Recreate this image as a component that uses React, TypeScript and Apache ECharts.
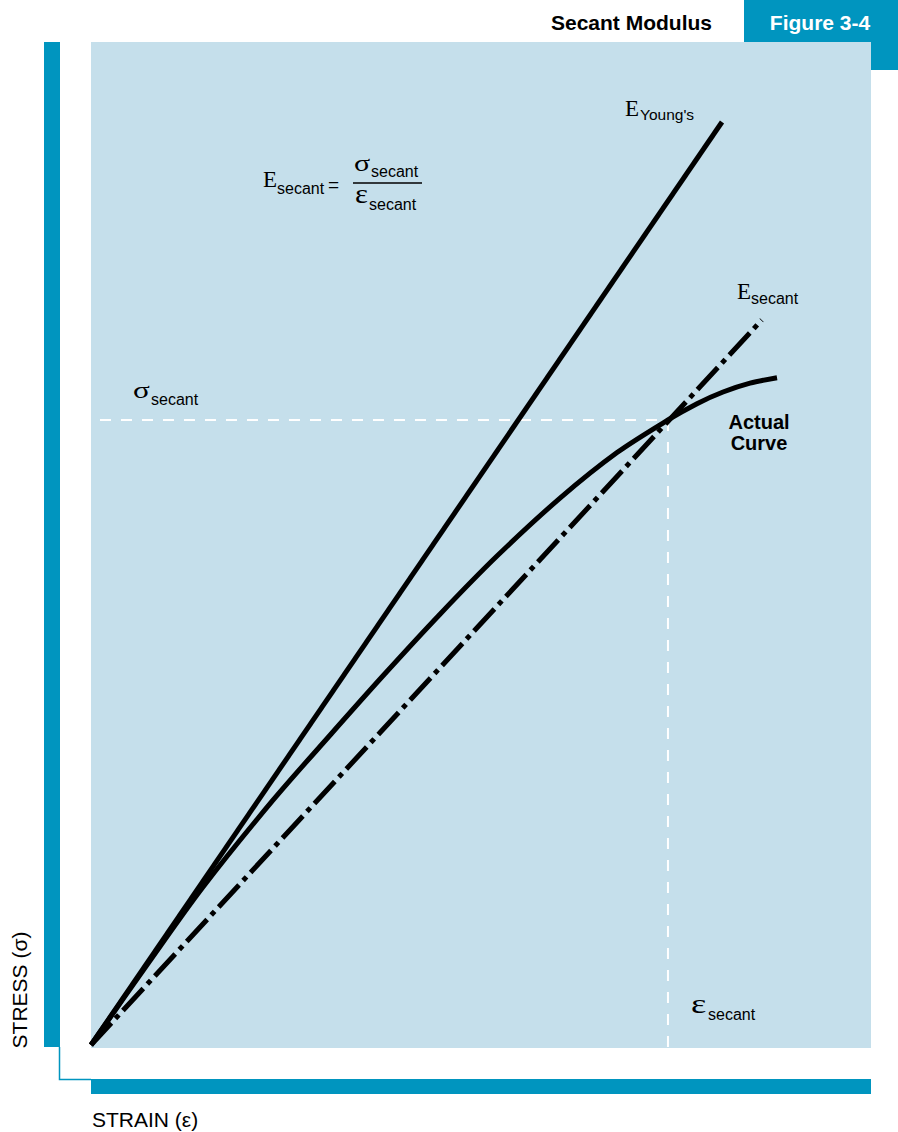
import React, { useEffect, useRef } from "react";
import * as echarts from "echarts";

// ---- data (strain, stress) in arbitrary chart units ----
const origin: number[] = [0, 0.3];
const youngsEnd: number[] = [80.9, 92.05];
const secantEnd: number[] = [86.0, 72.37];
const actualStrain: number[] = [0, 7.44, 14.36, 23.33, 30.64, 37.44, 44.74, 52.05, 60.13, 67.44, 73.97, 77.69, 81.03, 84.49, 87.95];
const actualStress: number[] = [0.3, 8.54, 16.0, 24.63, 31.09, 37.0, 43.12, 48.9, 54.66, 59.19, 62.43, 64.05, 65.21, 66.09, 66.63];
const secantPoint: number[] = [73.97, 62.43];
const guideStartX = 1.15;

const TEAL = "#0095bf";
const BG = "#c5dfeb";
const SERIF = "'Liberation Serif', 'DejaVu Serif', serif";
const SANS = "'Liberation Sans', Arial, sans-serif";

function txt(x: number, baseline: number, text: string, fs: number, family: string, extra: any = {}, scaleX = 1) {
  const c = family === SERIF ? 0.3375 : 0.3465;
  return {
    type: "text",
    z: 100,
    x,
    y: baseline - c * fs,
    scaleX,
    style: {
      text,
      fontSize: fs,
      fontFamily: family,
      fill: "#000",
      align: "left",
      verticalAlign: "middle",
      ...extra,
    },
  };
}

export default function App() {
  const ref = useRef<HTMLDivElement>(null);
  useEffect(() => {
    if (!ref.current) return;
    const chart = echarts.init(ref.current, undefined, { renderer: "svg" });
    const actual = actualStrain.map((x, i) => [x, actualStress[i]]);
    chart.setOption({
      animation: false,
      grid: {
        left: 91,
        top: 42,
        right: 27,
        bottom: 84,
        show: true,
        backgroundColor: BG,
        borderWidth: 0,
      },
      xAxis: { type: "value", min: 0, max: 100, show: false },
      yAxis: { type: "value", min: 0, max: 100, show: false },
      series: [
        {
          type: "line",
          name: "guideH",
          data: [[guideStartX, secantPoint[1]], [secantPoint[0], secantPoint[1]]],
          symbol: "none",
          lineStyle: { color: "#ffffff", width: 2, type: [11, 10] },
          z: 1,
        },
        {
          type: "line",
          name: "guideV",
          data: [[secantPoint[0], secantPoint[1]], [secantPoint[0], 0]],
          symbol: "none",
          lineStyle: { color: "#ffffff", width: 2, type: [11, 11] },
          z: 1,
        },
        {
          type: "line",
          name: "Young's",
          data: [origin, youngsEnd],
          symbol: "none",
          lineStyle: { color: "#000", width: 5, cap: "butt" },
          z: 3,
        },
        {
          type: "line",
          name: "Secant",
          data: [origin, secantEnd],
          symbol: "none",
          lineStyle: { color: "#000", width: 5, type: [30, 6, 5, 6], cap: "butt" },
          z: 3,
        },
        {
          type: "line",
          name: "Actual",
          data: actual,
          smooth: 0.3,
          symbol: "none",
          lineStyle: { color: "#000", width: 5, cap: "butt" },
          z: 3,
        },
      ],
      graphic: [
        // frame pieces
        { type: "rect", z: 10, shape: { x: 44, y: 42, width: 16, height: 1005 }, style: { fill: TEAL } },
        { type: "rect", z: 10, shape: { x: 91, y: 1079, width: 780, height: 15 }, style: { fill: TEAL } },
        { type: "rect", z: 10, shape: { x: 744, y: 0, width: 154, height: 42 }, style: { fill: TEAL } },
        { type: "rect", z: 10, shape: { x: 871, y: 42, width: 27, height: 28 }, style: { fill: TEAL } },
        {
          type: "polyline",
          z: 10,
          shape: { points: [[59.5, 1047], [59.5, 1079.5], [91, 1079.5]] },
          style: { stroke: TEAL, lineWidth: 1.5, fill: "none" },
        },
        // titles
        txt(712, 30, "Secant Modulus", 21, SANS, { fontWeight: "bold", align: "right" }),
        txt(820, 30, "Figure 3-4", 21, SANS, { fontWeight: "bold", align: "center", fill: "#ffffff" }),
        // axis titles
        txt(92, 1127, "STRAIN (ε)", 21, SANS),
        {
          type: "text",
          z: 100,
          x: 19,
          y: 990,
          rotation: Math.PI / 2,
          style: {
            text: "STRESS (σ)",
            fontSize: 21,
            fontFamily: SANS,
            fill: "#000",
            align: "center",
            verticalAlign: "middle",
          },
        },
        // E Young's
        txt(625, 116, "E", 23, SERIF),
        txt(640, 120, "Young's", 15.5, SANS),
        // E secant
        txt(737, 299, "E", 23, SERIF),
        txt(751, 304, "secant", 16, SANS),
        // formula
        txt(263, 187, "E", 23, SERIF),
        txt(277, 194, "secant", 16, SANS),
        { type: "text", z: 100, x: 328, y: 184.5, style: { text: "=", fontSize: 19, fontFamily: SANS, fill: "#000", align: "left", verticalAlign: "middle" } },
        txt(354, 171, "σ", 24, SERIF, {}, 1.25),
        txt(371, 177, "secant", 16, SANS),
        { type: "line", z: 100, shape: { x1: 353, y1: 183, x2: 422, y2: 183 }, style: { stroke: "#000", lineWidth: 1.5 } },
        txt(355, 203, "ε", 28, SERIF, {}, 1.1),
        txt(369, 210, "secant", 16, SANS),
        // sigma secant
        txt(133, 398, "σ", 24, SERIF, {}, 1.3),
        txt(151, 405, "secant", 16, SANS),
        // epsilon secant
        txt(691, 1013, "ε", 28, SERIF, {}, 1.3),
        txt(708, 1020, "secant", 16, SANS),
        // Actual curve
        txt(759, 429, "Actual", 20, SANS, { fontWeight: "bold", align: "center" }),
        txt(759, 450, "Curve", 20, SANS, { fontWeight: "bold", align: "center" }),
      ],
    });
    return () => chart.dispose();
  }, []);
  return <div ref={ref} style={{ width: 898, height: 1132, position: "absolute", left: 0, top: 0 }} />;
}
